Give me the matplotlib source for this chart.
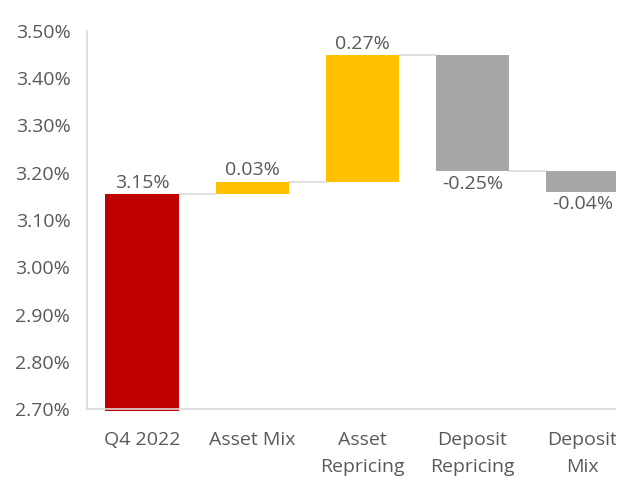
import matplotlib.pyplot as plt
from matplotlib.patches import Rectangle
from matplotlib.ticker import FuncFormatter

# waterfall data (percent)
categories = ['Q4 2022', 'Asset Mix', 'Asset\nRepricing', 'Deposit\nRepricing', 'Deposit\nMix']
start_value = 3.154
changes = [0.027, 0.268, -0.246, -0.044]
bar_colors = ['#C00000', '#FFC000', '#FFC000', '#A9A7A6', '#A9A7A6']

plt.rcParams['font.family'] = ['Open Sans', 'DejaVu Sans']
text_color = '#595959'
line_color = '#D9D9D9'

fig = plt.figure(figsize=(6.25, 4.82), dpi=100)
ax = fig.add_axes([87 / 625, 73 / 482, 550.5 / 625, 378 / 482])

width = 0.664
y_min = 2.70

# bottoms / heights for each bar
bottoms = [y_min - 0.004]
heights = [start_value - bottoms[0]]
levels = [start_value]
level = start_value
for c in changes:
    new = level + c
    bottoms.append(min(level, new))
    heights.append(abs(c))
    level = new
    levels.append(level)

x = list(range(len(categories)))
ax.bar(x, heights, bottom=bottoms, width=width, color=bar_colors, zorder=2, clip_on=False)

# connectors
for i in range(len(categories) - 1):
    ax.plot([i + width / 2, i + 1 - width / 2], [levels[i], levels[i]],
            color=line_color, linewidth=1.2, zorder=1)

# value labels
labels = [start_value] + changes
for i, v in enumerate(labels):
    if v >= 0:
        ax.text(i, bottoms[i] + heights[i] + 0.005, f'{v:.2f}%', ha='center', va='bottom',
                fontsize=14, color=text_color)
    else:
        ax.text(i, bottoms[i] - 0.007, f'{v:.2f}%', ha='center', va='top',
                fontsize=14, color=text_color)

ax.set_xlim(-0.5, len(categories) - 0.5)
ax.set_ylim(y_min, 3.50)
ax.set_yticks([2.70 + 0.10 * k for k in range(9)])
ax.yaxis.set_major_formatter(FuncFormatter(lambda v, p: f'{v:.2f}%'))
ax.set_xticks(x)
ax.set_xticklabels(categories, linespacing=1.6)

ax.tick_params(axis='y', length=0, pad=12, labelsize=14, labelcolor=text_color)
ax.tick_params(axis='x', length=0, pad=16, labelsize=14, labelcolor=text_color)

for side in ['top', 'right']:
    ax.spines[side].set_visible(False)
for side in ['left', 'bottom']:
    ax.spines[side].set_color(line_color)
    ax.spines[side].set_linewidth(1.2)
    ax.spines[side].set_zorder(3)

# the source image is cut off at the right edge
fig.patches.append(Rectangle((616 / 625, 0), 9 / 625, 1, transform=fig.transFigure,
                             facecolor='white', edgecolor='none', zorder=10))

fig.savefig('out.png', dpi=100)
